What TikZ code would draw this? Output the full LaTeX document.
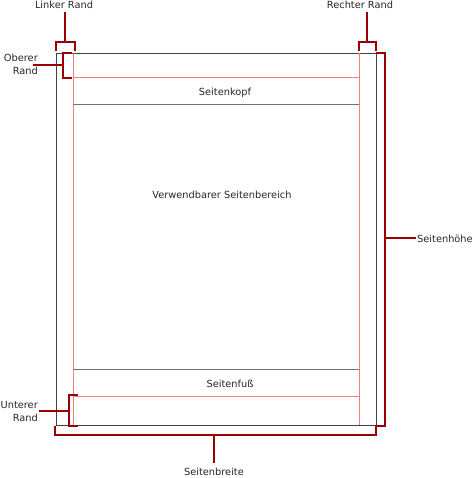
\documentclass[tikz,border=0pt]{standalone}
\usepackage{fontspec}
\setmainfont{DejaVu Sans}
\definecolor{brk}{HTML}{9B0000}
\definecolor{mrg}{HTML}{F08080}
\definecolor{pg}{HTML}{404040}
\definecolor{gl}{HTML}{707070}
\begin{document}
\begin{tikzpicture}[x=1pt,y=-1pt,
  bracket/.style={draw=brk,line width=1.8pt,line cap=rect},
  margin/.style={draw=mrg,line width=0.8pt},
  sect/.style={draw=gl,line width=0.8pt},
  lbl/.style={font=\fontsize{9.8}{13}\selectfont,inner sep=0pt,text=black!85},
  pagebox/.style={draw=pg,line width=1pt}]
\useasboundingbox (0,0) rectangle (474,478);
% page
\node[pagebox,minimum width=320,minimum height=372,inner sep=0pt,anchor=north west] (page) at (56,53) {};
% margin lines
\coordinate (ml1) at (73,53); \coordinate (ml2) at (73,425);
\coordinate (mr1) at (359,53); \coordinate (mr2) at (359,425);
\coordinate (mt1) at (73,77); \coordinate (mt2) at (359,77);
\coordinate (mb1) at (73,396); \coordinate (mb2) at (359,396);
\coordinate (hb1) at (73,104); \coordinate (hb2) at (359,104);
\coordinate (ft1) at (73,369); \coordinate (ft2) at (359,369);
\draw[margin] (ml1) -- (ml2);
\draw[margin] (mr1) -- (mr2);
\draw[margin] (mt1) -- (mt2);
\draw[margin] (mb1) -- (mb2);
\draw[sect] (hb1) -- (hb2);
\draw[sect] (ft1) -- (ft2);
\node[lbl,anchor=base] (kopf) at (225,96) {Seitenkopf};
\node[lbl,anchor=base] (body) at (222,198) {Verwendbarer Seitenbereich};
\node[lbl,anchor=base] (fuss) at (230,387) {Seitenfuß};
% Linker Rand
\node[lbl,anchor=base] (lr) at (64,9) {Linker Rand};
\draw[bracket] (56,50) -- (56,42) -- (75,42) -- (75,50);
\draw[bracket] (65,42) -- (65,13);
% Rechter Rand
\node[lbl,anchor=base] (rr) at (360,9) {Rechter Rand};
\draw[bracket] (359,50) -- (359,42) -- (376,42) -- (376,50);
\draw[bracket] (367,42) -- (367,13);
% Oberer Rand
\node[lbl,align=right,anchor=base east] (or) at (38,75) {Oberer\\Rand};
\draw[bracket] (71,53) -- (63,53) -- (63,78) -- (71,78);
\draw[bracket] (63,65) -- (34,65);
% Unterer Rand
\node[lbl,align=right,anchor=base east] (ur) at (38,421) {Unterer\\Rand};
\draw[bracket] (77,395) -- (69,395) -- (69,426) -- (77,426);
\draw[bracket] (69,411) -- (40,411);
% Seitenbreite
\node[lbl,anchor=base] (sb) at (214,475) {Seitenbreite};
\draw[bracket] (55,427) -- (55,435) -- (376,435) -- (376,427);
\draw[bracket] (214,435) -- (214,462);
% Seitenhoehe
\node[lbl,anchor=base west] (sh) at (417,242) {Seitenhöhe};
\draw[bracket] (377,53) -- (385,53) -- (385,426) -- (377,426);
\draw[bracket] (385,238) -- (415,238);
\end{tikzpicture}
\end{document}
